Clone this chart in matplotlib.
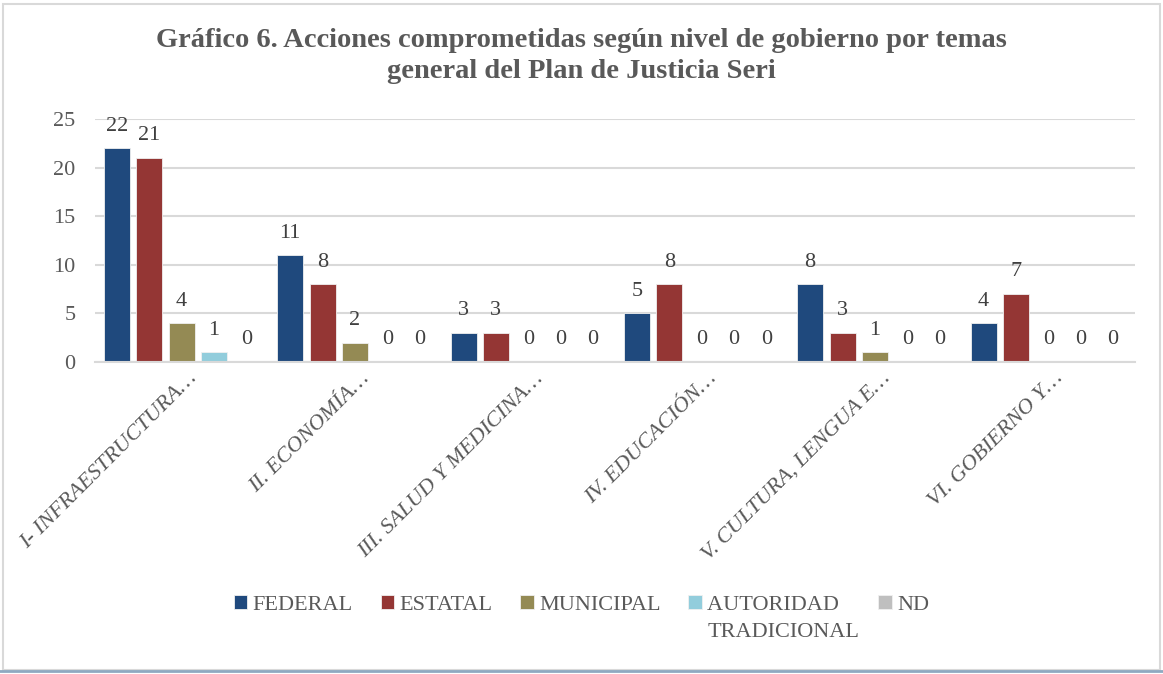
import numpy as np
import matplotlib.pyplot as plt
import matplotlib.transforms as mtransforms
from matplotlib.patches import Rectangle

# datos
temas = ['I- INFRAESTRUCTURA…', 'II. ECONOMÍA…', 'III. SALUD Y MEDICINA…',
         'IV. EDUCACIÓN…', 'V. CULTURA, LENGUA E…', 'VI. GOBIERNO Y…']
niveles = ['FEDERAL', 'ESTATAL', 'MUNICIPAL', 'AUTORIDAD  ', 'ND']
federal = [22, 11, 3, 5, 8, 4]
estatal = [21, 8, 3, 8, 3, 7]
municipal = [4, 2, 0, 0, 1, 0]
autoridad = [1, 0, 0, 0, 0, 0]
nd = [0, 0, 0, 0, 0, 0]
colores = ['#1F497D', '#943634', '#948A54', '#92CDDC', '#BFBFBF']

series = [federal, estatal, municipal, autoridad, nd]

plt.rcParams['font.family'] = ['Liberation Serif', 'DejaVu Serif']

fig = plt.figure(figsize=(11.63, 6.74), dpi=100)
ax = fig.add_axes([95 / 1163, 1 - 362 / 674, 1040 / 1163, 243 / 674])

x = np.arange(len(temas))
paso = 0.187
ancho = 0.15
for i, (vals, col, nom) in enumerate(zip(series, colores, niveles)):
    pos = x + (i - 2) * paso
    ax.bar(pos, vals, ancho, color=col, edgecolor='#F0F0F0',
           linewidth=0.6, label=nom)
    for p, v in zip(pos, vals):
        ax.annotate(str(v), (p, v), xytext=(0, 9), textcoords='offset points',
                    ha='center', va='bottom', fontsize=16, color='#404040')

ax.set_xlim(-0.5, 5.5)
ax.set_ylim(0, 25)
ax.set_yticks([0, 5, 10, 15, 20, 25])
ax.yaxis.grid(True, color='#D9D9D9', linewidth=1.5)
ax.set_axisbelow(True)
for s in ['top', 'right', 'left']:
    ax.spines[s].set_visible(False)
ax.spines['bottom'].set_color('#D9D9D9')
ax.spines['bottom'].set_linewidth(1.5)
ax.tick_params(axis='both', length=0, labelsize=16, labelcolor='#595959')
ax.tick_params(axis='y', pad=14)
ax.set_xticks(x)
ax.set_xticklabels(temas, rotation=45, ha='right', va='center',
                   rotation_mode='anchor', style='italic', fontsize=16)
ax.tick_params(axis='x', pad=10)
desplaza = mtransforms.ScaledTranslation(12 / 100, 0, fig.dpi_scale_trans)
for lab in ax.get_xticklabels():
    lab.set_transform(lab.get_transform() + desplaza)

fig.text(0.5, 1 - 28 / 674,
         'Gráfico 6. Acciones comprometidas según nivel de gobierno por temas\n'
         'general del Plan de Justicia Seri',
         ha='center', va='top', fontsize=20.5, fontweight='bold', color='#595959',
         linespacing=1.3)

leg = fig.legend(loc='center', bbox_to_anchor=(0.5, 1 - 605 / 674), ncol=5,
                 frameon=False, fontsize=16, handlelength=0.6, handleheight=0.6,
                 handletextpad=0.25, columnspacing=1.25, labelcolor='#595959')

# segunda linea de la etiqueta "AUTORIDAD TRADICIONAL"
fig.canvas.draw()
t = leg.get_texts()[3]
bb = t.get_window_extent()
fig.text(bb.x0 / fig.bbox.width, (bb.y0 - 27) / fig.bbox.height, 'TRADICIONAL',
         fontsize=16, color='#595959', ha='left', va='bottom')

fig.add_artist(Rectangle((0.003, 0.006), 0.994, 0.988, transform=fig.transFigure,
                         fill=False, edgecolor='#D9D9D9', linewidth=1.5))
fig.add_artist(plt.Line2D([0, 1], [0.004, 0.004], transform=fig.transFigure,
                          color='#8EA9C1', linewidth=2))

fig.savefig('out.png', dpi=100)
